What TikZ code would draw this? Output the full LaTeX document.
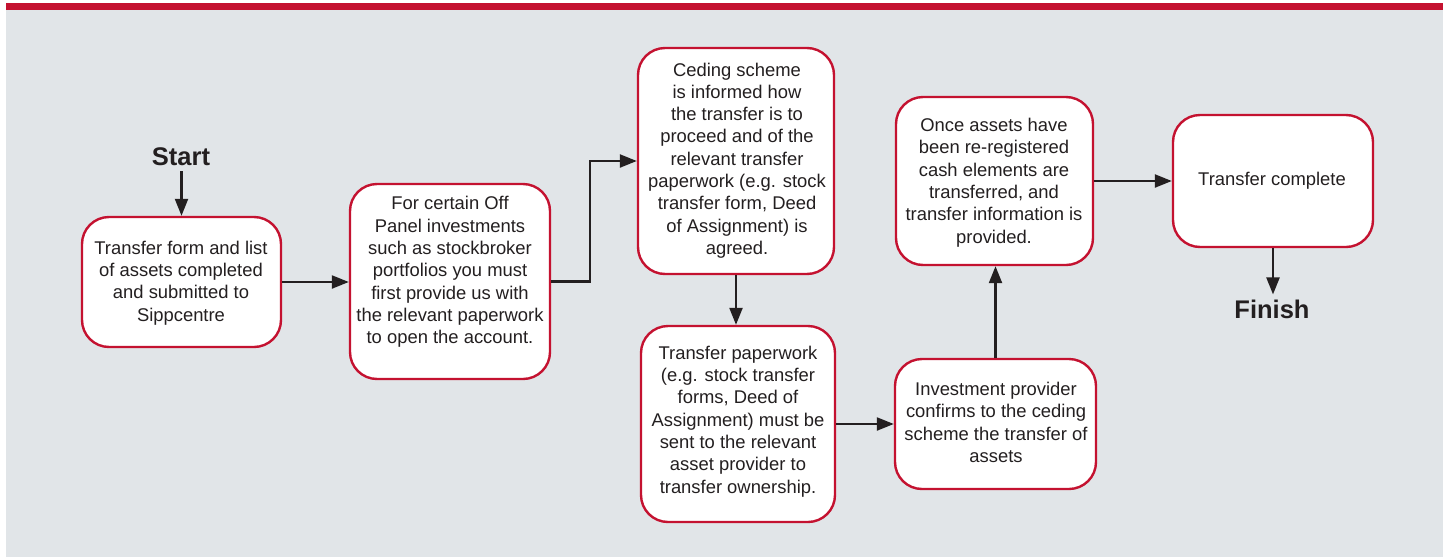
\documentclass[tikz,border=0pt]{standalone}
\usepackage{fontspec}
\setmainfont{Liberation Sans}
\usetikzlibrary{arrows.meta}
\definecolor{brandred}{HTML}{C41230}
\definecolor{panelgrey}{HTML}{E1E5E8}
\definecolor{ink}{HTML}{231F20}
\tikzset{
  flowbox/.style={draw=brandred, line width=2.4pt, fill=white, rounded corners=27pt, inner sep=0pt},
  boxtext/.style={text=ink, align=center, inner sep=0pt, font=\fontsize{18.4}{22.3}\selectfont},
  endtext/.style={text=ink, inner sep=5pt, font=\fontsize{25.5}{30}\selectfont\bfseries},
  flowarrow/.style={draw=ink, line width=2.3pt, -{Triangle[length=17pt,width=13pt]}},
}
\begin{document}
\begin{tikzpicture}[x=1pt,y=-1pt]
\useasboundingbox (0,0) rectangle (1450,557);
\fill[white] (0,0) rectangle (1450,557);
\fill[panelgrey] (6,9) rectangle (1443,557);
\fill[brandred] (6,3) rectangle (1443,9.5);

% boxes
\node[flowbox, minimum width=199pt, minimum height=130pt] (b1) at (181.5,282) {};
\node[flowbox, minimum width=200pt, minimum height=195pt] (b2) at (450,281.5) {};
\node[flowbox, minimum width=196pt, minimum height=226pt] (b3) at (736,161) {};
\node[flowbox, minimum width=194pt, minimum height=196pt] (b4) at (738,424) {};
\node[flowbox, minimum width=201pt, minimum height=130pt] (b5) at (995.5,424) {};
\node[flowbox, minimum width=197pt, minimum height=168pt] (b6) at (994.5,181) {};
\node[flowbox, minimum width=200pt, minimum height=132pt] (b7) at (1273,181) {};

% texts
\node[boxtext] (t1) at (181,283) {Transfer form and list\\of assets completed\\and submitted to\\Sippcentre};
\node[boxtext] (t2) at (450,272) {For certain Off\\Panel investments\\such as stockbroker\\portfolios you must\\first provide us with\\the relevant paperwork\\to open the account.};
\node[boxtext] (t3) at (737,160.5) {Ceding scheme\\is informed how\\the transfer is to\\proceed and of the\\relevant transfer\\paperwork (e.g. stock\\transfer form, Deed\\of Assignment) is\\agreed.};
\node[boxtext] (t4) at (738,421.5) {Transfer paperwork\\(e.g. stock transfer\\forms, Deed of\\Assignment) must be\\sent to the relevant\\asset provider to\\transfer ownership.};
\node[boxtext] (t5) at (996,422.5) {Investment provider\\confirms to the ceding\\scheme the transfer of\\assets};
\node[boxtext] (t6) at (994,182.5) {Once assets have\\been re-registered\\cash elements are\\transferred, and\\transfer information is\\provided.};
\node[boxtext] (t7) at (1272,181) {Transfer complete};

\node[endtext] (start) at (181,157) {Start};
\node[endtext] (finish) at (1272,309) {Finish};

\coordinate (k) at (590,0);

% connectors
\draw[flowarrow] (start.south -| b1.north) -- (b1.north);
\draw[flowarrow] (b1.east) -- (b1.east -| b2.west);
\draw[flowarrow] (b2.east) -| (k |- b3.west) -- (b3.west);
\draw[flowarrow] (b3.south) -- (b3.south |- b4.north);
\draw[flowarrow] (b4.east) -- (b4.east -| b5.west);
\draw[flowarrow] (b5.north) -- (b5.north |- b6.south);
\draw[flowarrow] (b6.east) -- (b6.east -| b7.west);
\draw[flowarrow] (b7.south) -- (b7.south |- finish.north);
\end{tikzpicture}
\end{document}
